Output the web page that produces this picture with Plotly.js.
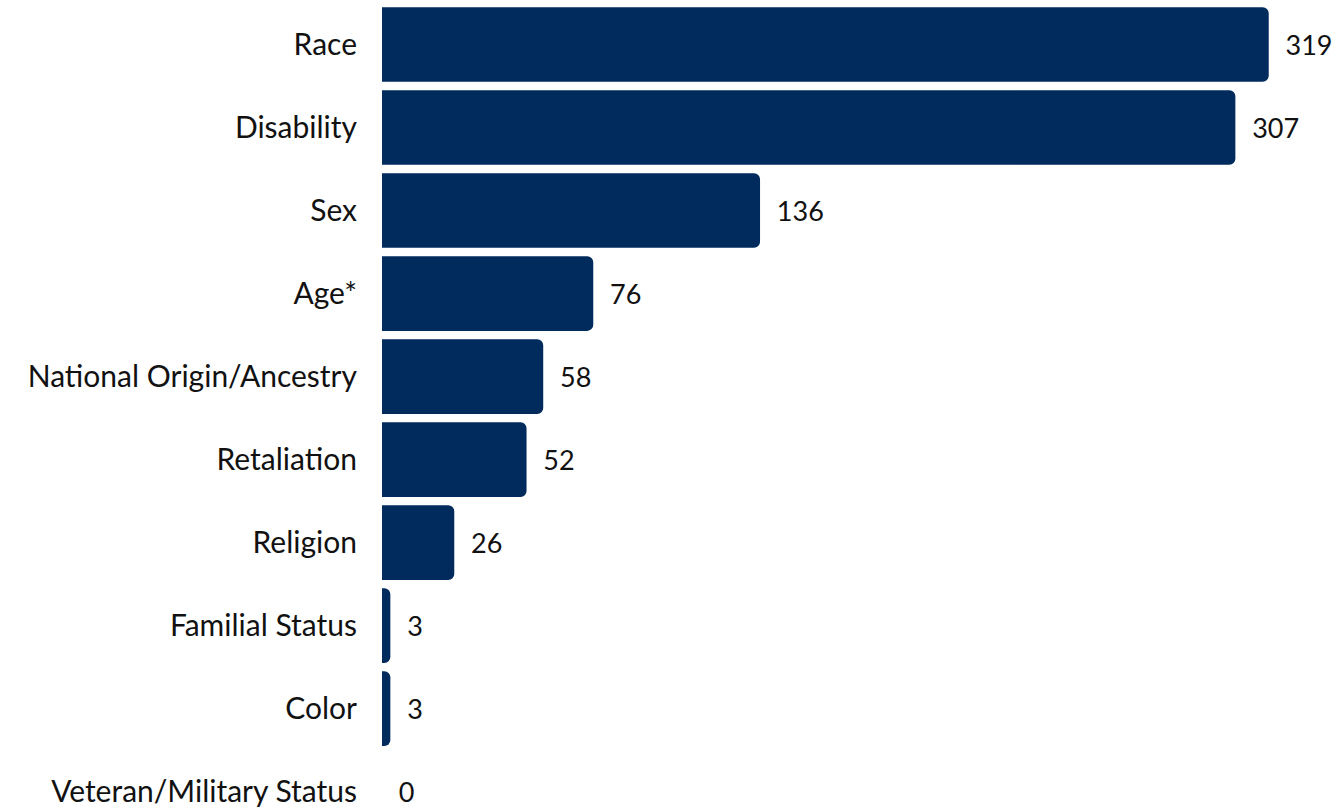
<!DOCTYPE html>
<html>
<head>
<meta charset="utf-8">
<script src="https://cdn.plot.ly/plotly-3.0.1.min.js"></script>
<style>html,body{margin:0;padding:0;background:#fff;}#chart{width:1341px;height:809px;}</style>
</head>
<body>
<div id="chart"></div>
<script>
const categories = ["Race","Disability","Sex","Age*","National Origin/Ancestry","Retaliation","Religion","Familial Status","Color","Veteran/Military Status"];
const values = [319,307,136,76,58,52,26,3,3,0];

const trace = {
  type: 'bar',
  orientation: 'h',
  x: values,
  y: categories,
  marker: {color: '#002b5c', cornerradius: 6},
  text: values.map(v => '\u00a0\u00a0' + v),
  textposition: 'outside',
  textfont: {family: 'Lato, sans-serif', size: 27, color: '#111'},
  cliponaxis: false,
  hoverinfo: 'none'
};

const layout = {
  width: 1341, height: 809,
  margin: {l: 382, r: 0, t: 3, b: 0},
  paper_bgcolor: '#fff', plot_bgcolor: '#fff',
  bargap: 0.1,
  showlegend: false,
  font: {family: 'Lato, sans-serif', size: 30, color: '#111'},
  xaxis: {range: [0, 345], visible: false, showgrid: false, zeroline: false},
  yaxis: {
    type: 'category',
    range: [9.21, -0.5],
    showgrid: false, zeroline: false, showline: false,
    ticks: '', ticklabelstandoff: 24,
    tickfont: {family: 'Lato, sans-serif', size: 30, color: '#111'}
  }
};

Plotly.newPlot('chart', [trace], layout, {displayModeBar: false, staticPlot: true});
</script>
</body>
</html>
